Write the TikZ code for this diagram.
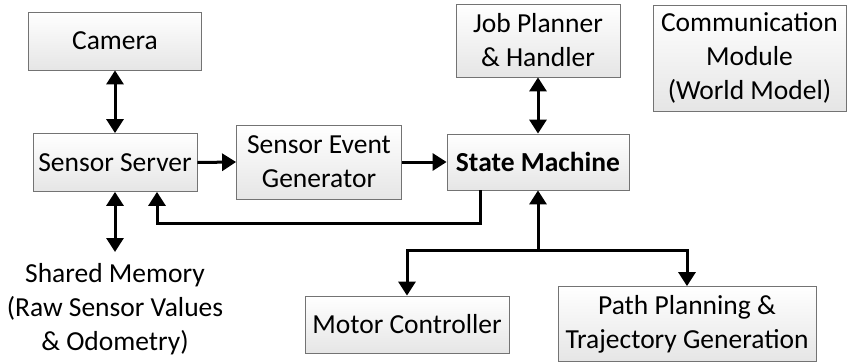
\documentclass[tikz,border=0pt]{standalone}
\usepackage{fontspec}
\setmainfont{Carlito}
\usetikzlibrary{arrows.meta}
\begin{document}
\begin{tikzpicture}[x=1pt,y=-1pt,
  box/.style={draw=black!55, line width=0.8pt, top color=white, bottom color=white!90!black,
    inner sep=0pt, align=center, font=\fontsize{27.5}{34}\selectfont},
  arr/.style={line width=3pt, -{Triangle[length=14pt,width=17pt]}},
  darr/.style={line width=3pt, {Triangle[length=14pt,width=17pt]}-{Triangle[length=14pt,width=17pt]}},
  lbl/.style={inner xsep=0pt, inner ysep=11pt, align=center, font=\fontsize{27.5}{34}\selectfont}]
\useasboundingbox (0,0) rectangle (847,362);
\node[box, minimum width=173pt, minimum height=58pt] (cam) at (115,41) {Camera};
\node[box, minimum width=164pt, minimum height=58pt] (ss) at (115,162.5) {Sensor Server};
\node[box, minimum width=165pt, minimum height=74pt] (seg) at (319,162) {Sensor Event\\Generator};
\node[box, minimum width=182pt, minimum height=56pt] (sm) at (538,162) {\bfseries State Machine};
\node[box, minimum width=164pt, minimum height=73pt] (jp) at (538,40.5) {Job Planner\\\& Handler};
\node[box, minimum width=193pt, minimum height=106pt] (cm) at (749.5,58) {Communication\\Module\\(World Model)};
\node[box, minimum width=204pt, minimum height=57pt] (mc) at (407,324.5) {Motor Controller};
\node[box, minimum width=258pt, minimum height=75pt] (pp) at (687,324) {Path Planning \&\\Trajectory Generation};
\node[lbl, anchor=north] (shm) at (115,252) {Shared Memory\\(Raw Sensor Values\\\& Odometry)};
\coordinate (jn) at (538,250);
\draw[darr] (cam.south -| ss.north) -- (ss.north);
\draw[arr] (ss.east) -- (seg.west);
\draw[arr] (seg.east) -- (sm.west);
\draw[darr] (jp.south) -- (sm.north);
\draw[darr] (ss.south) -- (shm.north);
\draw[arr] ([xshift=-58pt]sm.south) -- ++(0,33) -| ([xshift=42pt]ss.south);
\draw[arr] (jn) -- (sm.south);
\draw[arr] (jn) -| (mc.north);
\draw[arr] (jn) -| (pp.north);
\end{tikzpicture}
\end{document}
